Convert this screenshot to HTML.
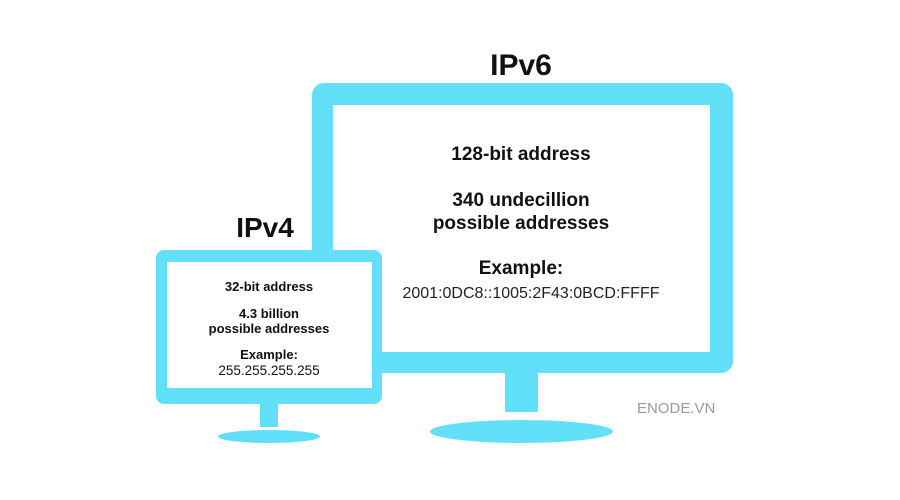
<!DOCTYPE html>
<html><head><style>
body{margin:0;width:900px;height:500px;background:#fff;position:relative;overflow:hidden;font-family:"Liberation Sans",sans-serif;color:#111}
.a{position:absolute}
.c{background:#62e0fa}
.t{position:absolute;text-align:center;font-weight:bold;white-space:nowrap}
</style></head><body>
<div class="t" style="left:421px;width:200px;top:49px;font-size:30px">IPv6</div>
<div class="a c" style="left:312px;top:83px;width:421px;height:290px;border-radius:12px"></div>
<div class="a" style="left:333px;top:105px;width:377px;height:247px;background:#fff"></div>
<div class="a c" style="left:505px;top:372px;width:33px;height:40px"></div>
<div class="a c" style="left:430px;top:420px;width:183px;height:23px;border-radius:50%"></div>
<div class="t" style="left:371px;width:300px;top:144px;font-size:19px">128-bit address</div>
<div class="t" style="left:371px;width:300px;top:189px;font-size:19px;line-height:23px">340 undecillion<br>possible addresses</div>
<div class="t" style="left:371px;width:300px;top:258px;font-size:19px">Example:</div>
<div class="t" style="left:381px;width:300px;top:285px;font-size:16px;font-weight:normal;color:#222">2001:0DC8::1005:2F43:0BCD:FFFF</div>
<div class="a" style="left:637px;top:400px;font-size:15px;color:#999">ENODE.VN</div>

<div class="t" style="left:165px;width:200px;top:212px;font-size:28px">IPv4</div>
<div class="a c" style="left:156px;top:250px;width:226px;height:154px;border-radius:8px"></div>
<div class="a" style="left:167px;top:262px;width:205px;height:126px;background:#fff"></div>
<div class="a c" style="left:260px;top:403px;width:18px;height:24px"></div>
<div class="a c" style="left:218px;top:430px;width:102px;height:13px;border-radius:50%"></div>
<div class="t" style="left:169px;width:200px;top:279px;font-size:13px">32-bit address</div>
<div class="t" style="left:169px;width:200px;top:306px;font-size:13px;line-height:15px">4.3 billion<br>possible addresses</div>
<div class="t" style="left:169px;width:200px;top:347px;font-size:13px">Example:</div>
<div class="t" style="left:169px;width:200px;top:363px;font-size:13.5px;font-weight:normal">255.255.255.255</div>
</body></html>
